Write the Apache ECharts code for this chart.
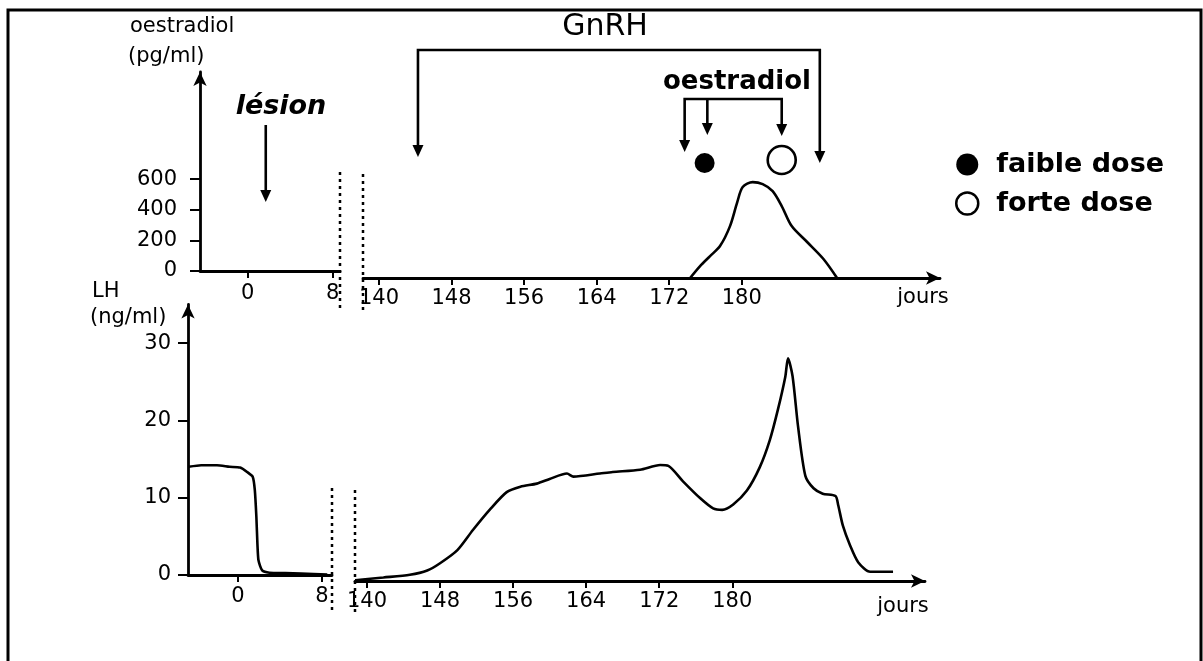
<!DOCTYPE html>
<html><head><meta charset="utf-8">
<script src="https://cdn.jsdelivr.net/npm/echarts@6/dist/echarts.min.js"></script>
<style>html,body{margin:0;padding:0;background:#fff}#c{width:1203px;height:661px}</style>
</head><body><div id="c"></div>
<script>
// ---- tick labels ----
const preTicks = [0, 8];
const postTicks = [140, 148, 156, 164, 172, 180];
const e2Ticks = [0, 200, 400, 600];
const lhTicks = [0, 10, 20, 30];

// ---- oestradiol (pg/ml) ----
const e2Days   = [174.3, 175.4, 176.5, 177.6, 178.7, 179.5, 180.1, 181.2, 182.3, 183.4, 184.4, 185.5, 187.2, 189.0, 190.5];
const e2Values = [0, 78, 143, 209, 339, 496, 594, 626, 613, 567, 470, 339, 235, 124, 0];

// ---- LH (ng/ml) before the break ----
const lhPreDays   = [-4.7, -3.5, -2.0, -0.8, 0.2, 0.9, 1.4, 1.6, 1.75, 1.85, 1.95, 2.3, 3.0, 4.5, 6.0, 8.5];
const lhPreValues = [14.0, 14.2, 14.2, 14.0, 13.9, 13.3, 12.7, 11.0, 7.5, 4.0, 1.9, 0.6, 0.3, 0.25, 0.2, 0.05];

// ---- LH (ng/ml) after the break ----
const lhDays   = [138.7, 141.8, 144.7, 146.6, 148.0, 149.9, 151.6, 153.5, 155.3, 156.8, 158.6, 160.0, 161.9, 162.6, 165.5, 166.9, 169.9, 172.1, 173.0, 174.6, 176.5, 177.9, 178.9, 180.1, 181.6, 183.0, 184.1, 185.0, 185.8, 186.1, 186.6, 187.2, 188.0, 188.9, 189.9, 191.3, 191.6, 192.1, 192.9, 193.8, 195.1, 197.6];
const lhValues = [0.1, 0.45, 0.8, 1.35, 2.3, 4.0, 6.6, 9.3, 11.5, 12.2, 12.6, 13.2, 13.9, 13.5, 13.9, 14.1, 14.4, 15.0, 14.9, 12.9, 10.7, 9.4, 9.2, 9.9, 11.7, 14.7, 18.2, 22.2, 26.4, 28.8, 26.5, 20.0, 13.6, 12.0, 11.3, 11.0, 9.8, 7.2, 4.6, 2.4, 1.2, 1.2];

// ---- oestradiol injections (marker row) ----
const faibleDoseDays = [175.9];
const faibleDoseLevel = [751];
const forteDoseDays = [184.4];
const forteDoseLevel = [771];

// ---- annotations (days) ----
const lesionDay = 1.7;
const gnrhDays = [144.3, 188.6];
const e2InjectionDays = [173.7, 176.2, 184.4];

const FONT = 'DejaVu Sans';
const BLACK = '#000';
const zip = (a, b) => a.map((d, i) => [d, b[i]]);

function xAxisCfg(grid, min, max, ticks, arrow, margin) {
  return {
    gridIndex: grid, type: 'value', min: min, max: max,
    axisLine: { onZero: false, symbol: arrow ? ['none', 'arrow'] : ['none', 'none'], symbolSize: [10, 14],
                lineStyle: { color: BLACK, width: 2.8 } },
    axisTick: { customValues: ticks, length: 7, lineStyle: { color: BLACK, width: 2 } },
    axisLabel: { customValues: ticks, margin: margin, fontSize: 21, fontFamily: FONT, color: BLACK },
    splitLine: { show: false }
  };
}
function yAxisCfg(grid, max, ticks, show, margin) {
  return {
    gridIndex: grid, type: 'value', min: 0, max: max, show: show,
    axisLine: { show: true, onZero: false, symbol: ['none', 'arrow'], symbolSize: [10, 14],
                lineStyle: { color: BLACK, width: 2.8 } },
    axisTick: { show: true, customValues: ticks, length: 10, lineStyle: { color: BLACK, width: 2 } },
    axisLabel: { customValues: ticks, margin: margin, fontSize: 21, fontFamily: FONT, color: BLACK },
    splitLine: { show: false }
  };
}

const chart = echarts.init(document.getElementById('c'));
const option = {
  animation: false,
  backgroundColor: '#fff',
  grid: [
    { left: 200, top: 72, width: 140, height: 199 },
    { left: 363, top: 79, width: 577, height: 199 },
    { left: 188, top: 304.5, width: 144, height: 270.5 },
    { left: 355, top: 310.5, width: 570, height: 270.5 }
  ],
  xAxis: [
    xAxisCfg(0, -4.5, 8.7, preTicks, false, 12),
    xAxisCfg(1, 138.24, 201.85, postTicks, true, 10),
    xAxisCfg(2, -4.76, 8.95, preTicks, false, 11),
    xAxisCfg(3, 138.69, 201.1, postTicks, true, 10)
  ],
  yAxis: [
    yAxisCfg(0, 1300, e2Ticks, true, 23),
    yAxisCfg(1, 1300, e2Ticks, false, 23),
    yAxisCfg(2, 35, lhTicks, true, 17),
    yAxisCfg(3, 35, lhTicks, false, 17)
  ],
  legend: {
    orient: 'vertical', left: 950, top: 146, itemGap: 12,
    itemWidth: 38, itemHeight: 22,
    textStyle: { fontFamily: FONT, fontWeight: 'bold', fontSize: 27, color: BLACK, padding: [0, 0, 0, 5] },
    data: [
      { name: 'faible dose', icon: 'circle', itemStyle: { color: BLACK, opacity: 1 } },
      { name: 'forte dose', icon: 'circle', itemStyle: { color: '#fff', borderColor: BLACK, borderWidth: 2.5, opacity: 1 } }
    ]
  },
  series: [
    { type: 'line', name: 'oestradiol', xAxisIndex: 1, yAxisIndex: 1, data: zip(e2Days, e2Values),
      showSymbol: false, smooth: 0.3, lineStyle: { color: BLACK, width: 2.6 }, silent: true },
    { type: 'line', name: 'LH avant', xAxisIndex: 2, yAxisIndex: 2, data: zip(lhPreDays, lhPreValues),
      showSymbol: false, smooth: 0.2, lineStyle: { color: BLACK, width: 2.6 }, silent: true },
    { type: 'line', name: 'LH', xAxisIndex: 3, yAxisIndex: 3, data: zip(lhDays, lhValues),
      showSymbol: false, smooth: 0.25, lineStyle: { color: BLACK, width: 2.6 }, silent: true },
    { type: 'scatter', name: 'faible dose', xAxisIndex: 1, yAxisIndex: 1, data: zip(faibleDoseDays, faibleDoseLevel),
      symbol: 'circle', symbolSize: 20, itemStyle: { color: BLACK, opacity: 1 } },
    { type: 'scatter', name: 'forte dose', xAxisIndex: 1, yAxisIndex: 1, data: zip(forteDoseDays, forteDoseLevel),
      symbol: 'circle', symbolSize: 28, itemStyle: { color: '#fff', borderColor: BLACK, borderWidth: 2.6, opacity: 1 } }
  ]
};
chart.setOption(option);

// ---- annotation graphics positioned through the axes ----
const xAt = (axis, day) => chart.convertToPixel({ xAxisIndex: axis }, day);
function line(x1, y1, x2, y2, extra) {
  return { type: 'line', shape: { x1, y1, x2, y2 }, style: Object.assign({ stroke: BLACK, lineWidth: 2.6 }, extra || {}), silent: true };
}
function head(x, tipY) {
  return { type: 'polygon', shape: { points: [[x - 5.5, tipY - 12], [x + 5.5, tipY - 12], [x, tipY]] }, style: { fill: BLACK }, silent: true };
}
function txt(text, x, y, size, opts) {
  opts = opts || {};
  return { type: 'text', x: x, y: y, silent: true,
    style: { text: text, fontFamily: FONT, fontSize: size, fontWeight: opts.weight || 'normal', fontStyle: opts.style || 'normal',
             fill: BLACK, align: opts.align || 'center', textAlign: opts.align || 'center',
             verticalAlign: 'middle', textVerticalAlign: 'middle' } };
}
const g = [];
// frame
g.push({ type: 'rect', shape: { x: 8, y: 10, width: 1193, height: 670 }, style: { fill: 'none', stroke: BLACK, lineWidth: 3 }, silent: true });
// axis break dotted lines
const dash = { lineDash: [3, 4], lineWidth: 2.5 };
const t0r = 200 + 140, t1l = 363, b0r = 188 + 144, b1l = 355;
g.push(line(t0r, 172, t0r, 308, dash), line(t1l, 174, t1l, 310, dash));
g.push(line(b0r, 488, b0r, 614, dash), line(b1l, 490, b1l, 616, dash));
// axis titles
g.push(txt('oestradiol', 130, 27, 21, { align: 'left' }), txt('(pg/ml)', 128, 57, 21, { align: 'left' }));
g.push(txt('LH', 92, 292, 21, { align: 'left' }), txt('(ng/ml)', 90, 318, 21, { align: 'left' }));
g.push(txt('jours', 923, 298, 21), txt('jours', 903, 607, 21));
// lésion
const xl = xAt(0, lesionDay);
g.push(txt('lésion', 281, 107, 27, { weight: 'bold', style: 'italic' }));
g.push(line(xl, 125, xl, 192), head(xl, 202));
// GnRH bracket
const xg1 = xAt(1, gnrhDays[0]), xg2 = xAt(1, gnrhDays[1]);
g.push(txt('GnRH', 605, 27, 30));
g.push({ type: 'polyline', shape: { points: [[xg1, 147], [xg1, 50], [xg2, 50], [xg2, 153]] }, style: { stroke: BLACK, lineWidth: 2.6, fill: 'none' }, silent: true });
g.push(head(xg1, 157), head(xg2, 163));
// oestradiol injection bracket
const xe = e2InjectionDays.map(d => xAt(1, d));
g.push(txt('oestradiol', 737, 82, 26, { weight: 'bold' }));
g.push({ type: 'polyline', shape: { points: [[xe[0], 142], [xe[0], 99], [xe[2], 99], [xe[2], 126]] }, style: { stroke: BLACK, lineWidth: 2.6, fill: 'none' }, silent: true });
g.push(line(xe[1], 99, xe[1], 125));
g.push(head(xe[0], 152), head(xe[1], 135), head(xe[2], 136));
chart.setOption({ graphic: g });
</script>
</body></html>
